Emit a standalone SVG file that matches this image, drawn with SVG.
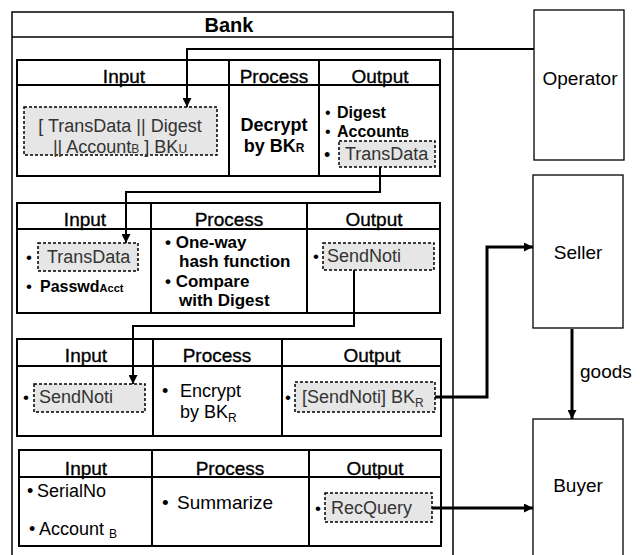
<svg xmlns="http://www.w3.org/2000/svg" width="640" height="555" viewBox="0 0 640 555">
  <style>
    text { font-family: "Liberation Sans", Arial, Helvetica, sans-serif; fill: #000; }
    .frame { fill: #fff; stroke: #000; stroke-width: 1.5; }
    .node { fill: #fff; stroke: #000; stroke-width: 1.3; }
    .tbl { fill: #fff; stroke: #000; stroke-width: 2; }
    .rule { stroke: #000; stroke-width: 2; fill: none; }
    .hd { font-size: 19px; text-anchor: middle; stroke: #000; stroke-width: 0.35; }
    .dash { fill: #e6e6e6; stroke: #000; stroke-width: 1.5; stroke-dasharray: 3 2; }
    .dt { font-size: 18px; fill: #333; }
    .bold { font-weight: bold; }
    .t16 { font-size: 16px; }
    .t17 { font-size: 17px; }
    .t18 { font-size: 18px; }
    .t19 { font-size: 19px; }
    .sub { font-size: 12px; }
    .mid { text-anchor: middle; }
    .conn { fill: none; stroke: #000; stroke-width: 2; }
    .heavy { stroke-width: 3; }
  </style>
  <defs>
    <marker id="arrow" viewBox="0 0 10 10" refX="10" refY="5" markerWidth="10" markerHeight="9" markerUnits="userSpaceOnUse" orient="auto">
      <path d="M0,0 L10,5 L0,10 z" fill="#000"/>
    </marker>
  </defs>

  <!-- Bank container -->
  <g id="bank">
    <rect class="frame" x="12" y="12" width="441" height="560"/>
    <line class="rule" x1="12" y1="37" x2="453" y2="37" style="stroke-width:1.5"/>
    <text x="229" y="32" class="bold mid" font-size="20">Bank</text>
  </g>

  <!-- Step 1: decrypt -->
  <g id="step-decrypt">
    <rect class="tbl" x="17" y="60" width="423" height="116"/>
    <line class="rule" x1="17" y1="85" x2="440" y2="85"/>
    <line class="rule" x1="229" y1="60" x2="229" y2="176"/>
    <line class="rule" x1="319" y1="60" x2="319" y2="176"/>
    <text class="hd" x="124" y="83">Input</text>
    <text class="hd" x="274" y="83">Process</text>
    <text class="hd" x="380" y="83">Output</text>

    <rect class="dash" x="24" y="107" width="193" height="48"/>
    <text class="dt mid" x="120" y="132" font-size="20">[ TransData || Digest</text>
    <text class="dt mid" x="120" y="153" font-size="20">|| Account<tspan class="sub">B</tspan> ] BK<tspan class="sub">U</tspan></text>

    <text class="t18 bold mid" x="274" y="131">Decrypt</text>
    <text class="t18 bold mid" x="274" y="152">by BK<tspan class="sub">R</tspan></text>

    <text class="t16" x="325" y="118">•</text>
    <text class="t16 bold" x="337" y="118">Digest</text>
    <text class="t16" x="325" y="137">•</text>
    <text class="t16 bold" x="337" y="137">Account<tspan font-size="11">B</tspan></text>
    <text class="t18" x="324" y="161">•</text>
    <rect class="dash" x="339" y="141" width="96" height="26"/>
    <text class="dt" x="345" y="160">TransData</text>
  </g>

  <!-- Step 2: hash check -->
  <g id="step-hash">
    <rect class="tbl" x="17" y="203" width="423" height="110"/>
    <line class="rule" x1="17" y1="229" x2="440" y2="229"/>
    <line class="rule" x1="151" y1="203" x2="151" y2="313"/>
    <line class="rule" x1="307" y1="203" x2="307" y2="313"/>
    <text class="hd" x="85" y="226">Input</text>
    <text class="hd" x="229" y="226">Process</text>
    <text class="hd" x="374" y="226">Output</text>

    <text class="t17" x="26" y="263">•</text>
    <rect class="dash" x="38" y="243" width="100" height="28"/>
    <text class="dt" x="47" y="263">TransData</text>
    <text class="t17" x="26" y="292">•</text>
    <text class="bold" font-size="16" x="40" y="292">Passwd<tspan font-size="11">Acct</tspan></text>

    <text class="t17 bold" x="165" y="248">• One-way</text>
    <text class="t17 bold" x="179" y="267">hash function</text>
    <text class="t17 bold" x="165" y="287">• Compare</text>
    <text class="t17 bold" x="179" y="306">with Digest</text>

    <text class="t17" x="313" y="262">•</text>
    <rect class="dash" x="323" y="243" width="111" height="27"/>
    <text class="dt" x="327" y="262">SendNoti</text>
  </g>

  <!-- Step 3: encrypt -->
  <g id="step-encrypt">
    <rect class="tbl" x="17" y="339" width="424" height="97"/>
    <line class="rule" x1="17" y1="366" x2="441" y2="366"/>
    <line class="rule" x1="153" y1="339" x2="153" y2="436"/>
    <line class="rule" x1="282" y1="339" x2="282" y2="436"/>
    <text class="hd" x="86" y="362">Input</text>
    <text class="hd" x="217" y="362">Process</text>
    <text class="hd" x="372" y="362">Output</text>

    <text class="t17" x="23" y="403">•</text>
    <rect class="dash" x="34" y="384" width="111" height="28"/>
    <text class="dt" x="39" y="403">SendNoti</text>

    <text class="t18" x="162" y="397">•</text>
    <text class="t18" x="180" y="397">Encrypt</text>
    <text class="t18" x="180" y="418">by BK<tspan class="sub" dy="4">R</tspan></text>

    <text class="t17" x="285" y="403">•</text>
    <rect class="dash" x="295" y="382" width="140" height="30"/>
    <text class="dt" x="302" y="403">[SendNoti] BK<tspan class="sub" dy="4">R</tspan></text>
  </g>

  <!-- Step 4: summarize -->
  <g id="step-summarize">
    <rect class="tbl" x="19" y="450" width="422" height="96"/>
    <line class="rule" x1="19" y1="477" x2="441" y2="477"/>
    <line class="rule" x1="152" y1="450" x2="152" y2="546"/>
    <line class="rule" x1="309" y1="450" x2="309" y2="546"/>
    <text class="hd" x="86" y="475">Input</text>
    <text class="hd" x="230" y="475">Process</text>
    <text class="hd" x="375" y="475">Output</text>

    <text class="t18" x="27" y="497">•</text>
    <text class="t18" x="37" y="497">SerialNo</text>
    <text class="t18" x="29" y="535">•</text>
    <text class="t18" x="39" y="535">Account <tspan class="sub" dy="3">B</tspan></text>

    <text class="t19" x="162" y="509">•</text>
    <text class="t19" x="177" y="509">Summarize</text>

    <text class="t17" x="315" y="514">•</text>
    <rect class="dash" x="325" y="493" width="107" height="29"/>
    <text class="dt" x="331" y="514">RecQuery</text>
  </g>

  <!-- External parties -->
  <g id="operator">
    <rect class="node" x="534" y="10" width="90" height="150"/>
    <text class="t19 mid" x="580" y="85">Operator</text>
  </g>
  <g id="seller">
    <rect class="node" x="533" y="175" width="90" height="153"/>
    <text class="t19 mid" x="578" y="259">Seller</text>
  </g>
  <g id="buyer">
    <rect class="node" x="533" y="419" width="90" height="160"/>
    <text class="t19 mid" x="578" y="492">Buyer</text>
  </g>

  <!-- Connectors -->
  <g id="connectors">
    <path class="conn" d="M534,49 H187 V107" marker-end="url(#arrow)"/>
    <path class="conn" d="M380,167 V192 H126 V243" marker-end="url(#arrow)"/>
    <path class="conn" d="M354,270 V326 H133 V384" marker-end="url(#arrow)"/>
    <path class="conn heavy" d="M435,397 H487 V247 H533" marker-end="url(#arrow)"/>
    <path class="conn heavy" d="M572,329 V419" marker-end="url(#arrow)"/>
    <text class="t19" x="580" y="378">goods</text>
    <path class="conn heavy" d="M432,508 H533" marker-end="url(#arrow)"/>
  </g>
</svg>
